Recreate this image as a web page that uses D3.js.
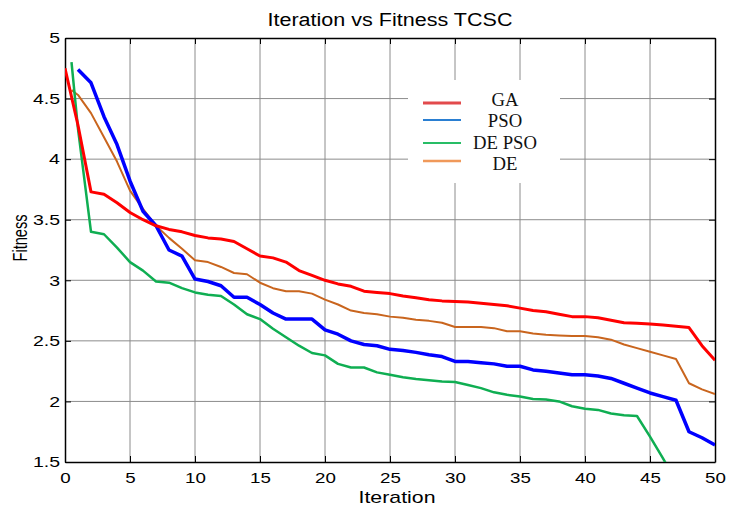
<!DOCTYPE html>
<html>
<head>
<meta charset="utf-8">
<script src="https://cdn.jsdelivr.net/npm/d3@7"></script>
<style>
    body { margin: 0; background: #fff; }
    svg { display: block; font-family: "Liberation Sans", Arial, sans-serif; }
    .grid line { stroke: #8c8c8c; stroke-width: 1; }
    .axis path { stroke: #000; stroke-width: 1.5; }
    .axis line { stroke: #000; }
    .axis text { font-size: 15px; fill: #000; transform-box: fill-box; }
    .x-axis text { transform-origin: 50% 50%; transform: scaleX(1.25); }
    .y-axis text { transform-origin: 100% 50%; transform: scaleX(1.3); }
</style>
</head>
<body>
<div id="chart"></div>
<script>
// chart data
const iterations = [0, 1, 2, 3, 4, 5, 6, 7, 8, 9, 10, 11, 12, 13, 14, 15, 16, 17, 18, 19, 20,
    21, 22, 23, 24, 25, 26, 27, 28, 29, 30, 31, 32, 33, 34, 35, 36, 37, 38, 39, 40,
    41, 42, 43, 44, 45, 46, 47, 48, 49, 50];

const gaFitness = [4.75, 4.28, 3.73, 3.71, 3.64, 3.56, 3.50, 3.45, 3.42, 3.40, 3.37,
    3.35, 3.34, 3.32, 3.26, 3.20, 3.185, 3.15, 3.08, 3.04, 3.00,
    2.97, 2.95, 2.91, 2.90, 2.89, 2.87, 2.855, 2.84, 2.83, 2.825,
    2.82, 2.81, 2.80, 2.79, 2.77, 2.75, 2.74, 2.72, 2.70, 2.70,
    2.69, 2.67, 2.65, 2.645, 2.64, 2.63, 2.62, 2.61, 2.46, 2.34];

const psoFitness = [4.74, 4.63, 4.35, 4.12, 3.82, 3.57, 3.45, 3.25, 3.20, 3.01,
    2.99, 2.955, 2.86, 2.86, 2.80, 2.73, 2.68, 2.68, 2.68, 2.59,
    2.555, 2.50, 2.47, 2.46, 2.43, 2.42, 2.405, 2.385, 2.37, 2.33,
    2.33, 2.32, 2.31, 2.29, 2.29, 2.26, 2.25, 2.235, 2.22, 2.22,
    2.21, 2.19, 2.15, 2.11, 2.07, 2.04, 2.01, 1.75, 1.70, 1.64];

const dePsoFitness = [4.80, 4.25, 3.40, 3.38, 3.27, 3.15, 3.08, 2.99, 2.98, 2.935, 2.90,
    2.88, 2.87, 2.80, 2.72, 2.68, 2.60, 2.53, 2.46, 2.40, 2.38,
    2.31, 2.28, 2.28, 2.24, 2.22, 2.20, 2.185, 2.175, 2.165, 2.16,
    2.135, 2.11, 2.075, 2.055, 2.04, 2.02, 2.015, 2.00, 1.96, 1.94,
    1.93, 1.90, 1.885, 1.88, 1.71, 1.53, 1.34];

const deFitness = [4.57, 4.53, 4.38, 4.18, 3.98, 3.74, 3.59, 3.45, 3.35, 3.26, 3.165,
    3.15, 3.11, 3.06, 3.05, 2.98, 2.935, 2.91, 2.91, 2.89, 2.84,
    2.80, 2.75, 2.73, 2.72, 2.70, 2.69, 2.675, 2.665, 2.65, 2.615,
    2.615, 2.615, 2.605, 2.58, 2.58, 2.56, 2.55, 2.545, 2.54, 2.54,
    2.53, 2.51, 2.47, 2.44, 2.41, 2.38, 2.35, 2.15, 2.10, 2.06];

const xTicks = [0, 5, 10, 15, 20, 25, 30, 35, 40, 45, 50];
const yTicks = [1.5, 2, 2.5, 3, 3.5, 4, 4.5, 5];
const seriesNames = ["GA", "PSO", "DE PSO", "DE"];

const lineChart = (id) => {
    const width = 729;
    const height = 507;
    const margin = { top: 38, right: 14, bottom: 45, left: 65 };
    const innerW = width - margin.left - margin.right;
    const innerH = height - margin.top - margin.bottom;

    const svg = d3.select(`#${id}`)
        .append("svg")
        .attr("width", width)
        .attr("height", height);

    const g = svg.append("g")
        .attr("transform", `translate(${margin.left}, ${margin.top})`);

    // scales
    const xScale = d3.scaleLinear().domain([0, 50]).range([0, innerW]);
    const yScale = d3.scaleLinear().domain([1.5, 5]).range([innerH, 0]);

    // grid
    g.append("g").attr("class", "grid")
        .selectAll("line.v").data(xTicks.slice(1, -1)).enter().append("line")
        .attr("x1", (d) => xScale(d)).attr("x2", (d) => xScale(d))
        .attr("y1", 0).attr("y2", innerH);
    g.append("g").attr("class", "grid")
        .selectAll("line.h").data(yTicks.slice(1, -1)).enter().append("line")
        .attr("y1", (d) => yScale(d)).attr("y2", (d) => yScale(d))
        .attr("x1", 0).attr("x2", innerW);

    // legend background covers the grid
    const legendX = 408 - margin.left;
    const legendY = 80 - margin.top;
    g.append("rect")
        .attr("x", legendX).attr("y", legendY)
        .attr("width", 152).attr("height", 103)
        .attr("fill", "#fff");

    // axes (ticks point inward, mirrored on top and right)
    g.append("g").attr("class", "axis x-axis")
        .attr("transform", `translate(0, ${innerH})`)
        .call(d3.axisBottom(xScale).tickValues(xTicks).tickSizeInner(-6).tickSizeOuter(0).tickPadding(10));
    g.append("g").attr("class", "axis y-axis")
        .call(d3.axisLeft(yScale).tickValues(yTicks).tickFormat(d3.format("")).tickSizeInner(-6).tickSizeOuter(0).tickPadding(5));
    g.append("g").attr("class", "axis")
        .call(d3.axisTop(xScale).tickValues(xTicks).tickSizeInner(-6).tickSizeOuter(0).tickFormat(""));
    g.append("g").attr("class", "axis")
        .attr("transform", `translate(${innerW}, 0)`)
        .call(d3.axisRight(yScale).tickValues(yTicks).tickSizeInner(-6).tickSizeOuter(0).tickFormat(""));

    // clip the lines to the plot box
    svg.append("clipPath").attr("id", "plot-clip")
        .append("rect").attr("width", innerW).attr("height", innerH);

    const series = [
        { name: "DE", x: [0.5].concat(iterations.slice(1)), y: deFitness, color: "#c9651e", w: 2 },
        { name: "DE PSO", x: [0.5].concat(iterations.slice(1, 48)), y: dePsoFitness, color: "#0fae52", w: 2.5 },
        { name: "PSO", x: iterations.slice(1), y: psoFitness, color: "#0000ff", w: 3.5 },
        { name: "GA", x: iterations, y: gaFitness, color: "#ff0000", w: 3 }
    ];

    const line = d3.line()
        .x((d) => xScale(d[0]))
        .y((d) => yScale(d[1]));

    g.append("g").attr("clip-path", "url(#plot-clip)")
        .selectAll("path")
        .data(series)
        .enter()
        .append("path")
        .attr("d", (s) => line(s.x.map((v, i) => [v, s.y[i]])))
        .attr("fill", "none")
        .attr("stroke", (s) => s.color)
        .attr("stroke-width", (s) => s.w)
        .attr("stroke-linejoin", "round");

    // legend
    const legendColors = ["#e24a4c", "#2a7fd2", "#28bd66", "#f0995a"];
    const legendRows = [103, 120, 143, 161];
    const legendBase = [106, 127, 149, 170];
    const legendWidths = [3, 2, 2, 2.5];
    const legend = svg.append("g");
    legend.selectAll("line")
        .data(seriesNames)
        .enter()
        .append("line")
        .attr("x1", 423).attr("x2", 461)
        .attr("y1", (d, i) => legendRows[i]).attr("y2", (d, i) => legendRows[i])
        .attr("stroke", (d, i) => legendColors[i])
        .attr("stroke-width", (d, i) => legendWidths[i]);
    legend.selectAll("text")
        .data(seriesNames)
        .enter()
        .append("text")
        .attr("x", 505)
        .attr("y", (d, i) => legendBase[i])
        .attr("text-anchor", "middle")
        .style("font-family", "'Liberation Serif', 'Times New Roman', serif")
        .style("font-size", "17px")
        .attr("transform", (d, i) => `translate(505, ${legendBase[i]}) scale(1.1, 1.08) translate(-505, ${-legendBase[i]})`)
        .attr("fill", "#111")
        .text((d) => d);

    // title and axis labels
    svg.append("text")
        .attr("x", 390).attr("y", 26)
        .attr("text-anchor", "middle")
        .attr("textLength", 245).attr("lengthAdjust", "spacingAndGlyphs")
        .style("font-size", "18px")
        .text("Iteration vs Fitness TCSC");

    svg.append("text")
        .attr("x", 397).attr("y", 503)
        .attr("text-anchor", "middle")
        .attr("textLength", 77).attr("lengthAdjust", "spacingAndGlyphs")
        .style("font-size", "17px")
        .text("Iteration");

    svg.append("text")
        .attr("transform", "translate(27, 238) rotate(-90) scale(1, 1.2)")
        .attr("text-anchor", "middle")
        .attr("textLength", 47).attr("lengthAdjust", "spacingAndGlyphs")
        .style("font-size", "17px")
        .text("Fitness");
}

lineChart("chart");
</script>
</body>
</html>
